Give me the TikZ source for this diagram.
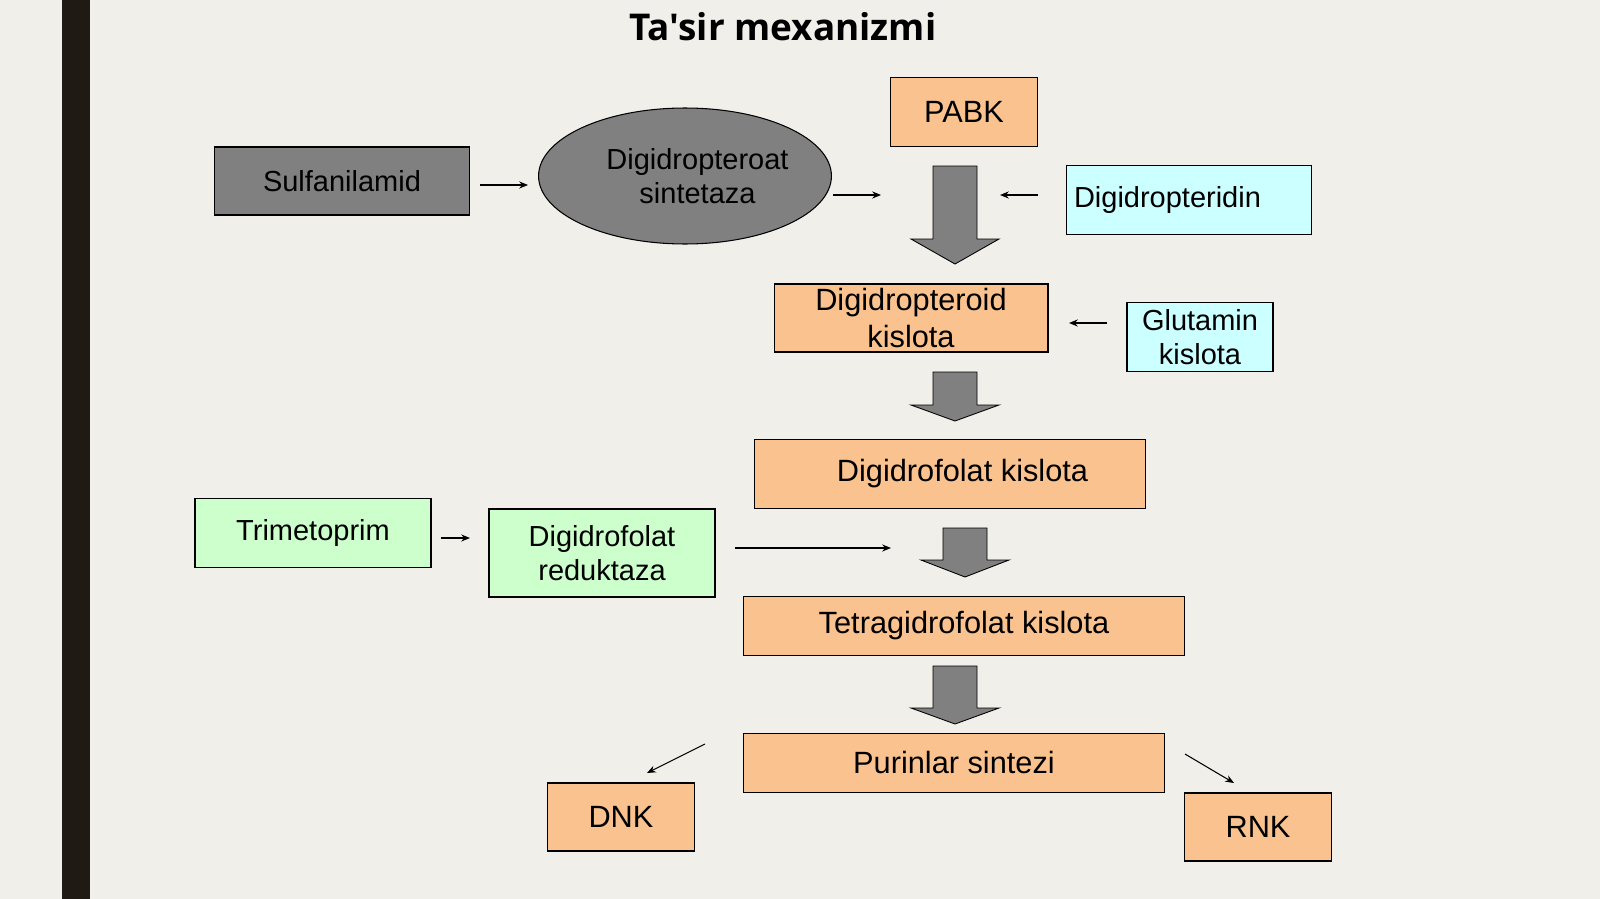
\documentclass[tikz,border=0pt]{standalone}
\usepackage{fontspec}
\setmainfont{Liberation Sans}
\newfontfamily\titlefont{Open Sans}
\usetikzlibrary{arrows.meta}
\usetikzlibrary{shapes.geometric}
\definecolor{bgc}{HTML}{F1EFE9}
\definecolor{barc}{HTML}{1F1A14}
\definecolor{grayc}{HTML}{808080}
\definecolor{orangec}{HTML}{FAC28F}
\definecolor{cyanc}{HTML}{CCFFFF}
\definecolor{greenc}{HTML}{CCFFCC}
\tikzset{
  box/.style = {draw, line width=0.6pt, align=center, inner sep=0, font=\fontsize{16.5}{19.5}\selectfont},
  gray box/.style = {box, fill=grayc},
  orange box/.style = {box, fill=orangec},
  cyan box/.style = {box, fill=cyanc},
  green box/.style = {box, fill=greenc},
  big text/.style = {font=\fontsize{17.5}{21}\selectfont},
  thin arrow/.style = {-{Stealth[length=5pt,width=4pt]}, line width=0.6pt},
  block/.style = {draw, line width=0.5pt, fill=grayc}
}
\newcommand{\blockarrow}[4]{% x center, top, head start, tip
  \draw [block] (#1-22,#2) -- (#1+22,#2) -- (#1+22,#3) -- (#1+44,#3) -- (#1,#4)
    -- (#1-44,#3) -- (#1-22,#3) -- cycle;}

\begin{document}
\begin{tikzpicture}[x=0.02cm, y=-0.02cm]
    \useasboundingbox (0,0) rectangle (1600,899);
    \fill [bgc] (0,0) rectangle (1600,899);
    \fill [barc] (62,0) rectangle (90,899);

    \node [font=\titlefont\bfseries\fontsize{21}{25}\selectfont] (title) at (783,27) {Ta'sir mexanizmi};

    % top row
    \node [gray box, minimum width=5.1cm, minimum height=1.36cm] (sulf) at (342,181) {Sulfanilamid};
    \node [gray box, ellipse, minimum width=5.12cm, minimum height=2.72cm] (sint) at (685,176) {\hspace*{0.5cm}Digidropteroat\\\hspace*{0.5cm}sintetaza};
    \node [orange box, minimum width=2.94cm, minimum height=1.38cm, big text] (pabk) at (964,112) {PABK};
    \node [cyan box, minimum width=4.9cm, minimum height=1.38cm, text width=4.6cm, align=left] (pter) at (1189,200) {Digidropteridin};

    \blockarrow{955}{166}{239}{264}

    % second level
    \node [orange box, minimum width=5.48cm, minimum height=1.36cm, big text] (dpk) at (911,318) {Digidropteroid\\kislota};
    \node [cyan box, minimum width=2.92cm, minimum height=1.38cm] (glut) at (1200,337) {Glutamin\\kislota};

    \blockarrow{955}{372}{405}{421}

    \node [orange box, minimum width=7.84cm, minimum height=1.38cm, big text] (dfk) at (950,474) {\hspace*{0.5cm}Digidrofolat kislota};

    % trimetoprim row
    \node [green box, minimum width=4.72cm, minimum height=1.38cm] (trim) at (313,533) {Trimetoprim};
    \node [green box, minimum width=4.52cm, minimum height=1.76cm] (red) at (602,553) {Digidrofolat\\reduktaza};

    \blockarrow{965}{528}{560}{577}

    \node [orange box, minimum width=8.82cm, minimum height=1.18cm, big text] (tgf) at (964,626) {Tetragidrofolat kislota};

    \blockarrow{955}{666}{708}{724}

    \node [orange box, minimum width=8.42cm, minimum height=1.18cm, big text] (pur) at (954,763) {Purinlar sintezi};
    \node [orange box, minimum width=2.94cm, minimum height=1.36cm, big text] (dnk) at (621,817) {DNK};
    \node [orange box, minimum width=2.94cm, minimum height=1.36cm, big text] (rnk) at (1258,827) {RNK};

    % small arrows
    \coordinate (a1) at (480,185);  \coordinate (b1) at (528,185);
    \coordinate (a2) at (833,195);  \coordinate (b2) at (881,195);
    \coordinate (a3) at (1038,195); \coordinate (b3) at (1000,195);
    \coordinate (a4) at (1107,323); \coordinate (b4) at (1069,323);
    \coordinate (a5) at (441,538);  \coordinate (b5) at (470,538);
    \coordinate (a6) at (735,548);  \coordinate (b6) at (891,548);
    \coordinate (a7) at (705,744);  \coordinate (b7) at (647,773);
    \coordinate (a8) at (1185,754); \coordinate (b8) at (1234,783);
    \foreach \i in {1,...,8}
      \draw [thin arrow] (a\i) -- (b\i);
\end{tikzpicture}
\end{document}
